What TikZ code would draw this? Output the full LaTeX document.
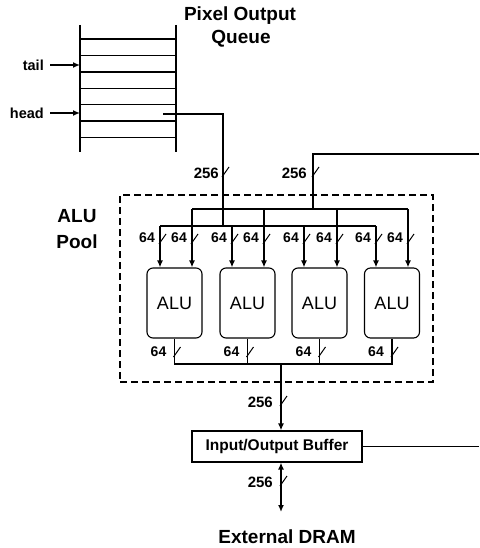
\documentclass[tikz,border=0pt]{standalone}
\usepackage{fontspec}
\setmainfont{Liberation Sans}
\usetikzlibrary{arrows.meta}
\begin{document}
\begin{tikzpicture}[x=1pt,y=-1pt,
  every node/.style={inner sep=0pt},
  ttl/.style={font=\fontsize{19}{19}\selectfont\bfseries},
  lab/.style={font=\fontsize{14}{14}\selectfont\bfseries, anchor=east},
  widelab/.style={font=\fontsize{15}{15}\selectfont\bfseries, anchor=east},
  sidelab/.style={font=\fontsize{14.5}{14.5}\selectfont\bfseries, anchor=east},
  wire/.style={line width=1.1pt},
  qline/.style={line width=1.5pt},
  thickwire/.style={line width=2pt},
  arrowend/.style={-{Latex[length=7pt,width=6pt]}},
  drop/.style={line width=1.8pt,-{Latex[length=7pt,width=6pt]}},
  ptr/.style={line width=1.9pt,-{Latex[length=7pt,width=6pt]}},
  alubox/.style={draw, line width=1.1pt, rounded corners=6pt, minimum width=55pt, minimum height=70pt, font=\fontsize{18}{18}\selectfont},
  poolbox/.style={draw, dash pattern=on 7pt off 4pt, line width=2.6pt, minimum width=313pt, minimum height=187pt},
  bufbox/.style={draw, line width=1.1pt, minimum width=170pt, minimum height=31pt, font=\fontsize{15.5}{15.5}\selectfont\bfseries},
  busmark/.pic={\draw[line width=1pt] (-1,4) -- (6,-6);}
]
\useasboundingbox (0,0) rectangle (479,548);

% title
\node[ttl] (t1) at (240,15.5) {Pixel Output};
\node[ttl] (t2) at (241,39) {Queue};

% queue
\coordinate (qtl) at (80,25);
\coordinate (qbr) at (176,152);
\draw[qline] (qtl) -- (qtl |- qbr);
\draw[qline] (qbr |- qtl) -- (qbr);
\foreach \y in {39,55.5,72,88.5,104.5,121,137.5}
  \draw[qline] (80,\y) -- (176,\y);

% tail / head
\node[sidelab] (tail) at (44,65) {tail};
\node[sidelab] (head) at (44,113) {head};
\draw[ptr] ([xshift=6pt]tail.east) -- (tail.east -| qtl);
\draw[ptr] ([xshift=6pt]head.east) -- (head.east -| qtl);

% ALU pool label
\node[ttl] (pl1) at (77,216) {ALU};
\node[ttl] (pl2) at (77,242) {Pool};

% pool box
\node[poolbox] (pool) at (276.5,288.5) {};

% bus A from queue
\coordinate (qh) at (163,114);
\coordinate (qa) at (223,114);
\coordinate (la) at (223,226);
\draw[wire] (qh) -- (qa) -- (la);
\node[widelab] (n256a) at (219,173) {256};
\pic at (223,173) {busmark};

% bus B from right
\coordinate (rin) at (479,154);
\coordinate (lb) at (313,209);
\draw[wire] (rin) -| (lb);
\node[widelab] (n256b) at (307,173) {256};
\pic at (313,173) {busmark};

% distribution lines
\draw[wire] (160,226) -- (376,226);
\draw[wire] (192,209) -- (408,209);

% ALUs
\node[alubox] (alu1) at (174.5,303) {ALU};
\node[alubox] (alu2) at (247.5,303) {ALU};
\node[alubox] (alu3) at (319.5,303) {ALU};
\node[alubox] (alu4) at (392,303) {ALU};

% drops
\foreach \x/\y/\a in {160/226/alu1,192/209/alu1,232/226/alu2,264/209/alu2,304/226/alu3,337/209/alu3,376/226/alu4,408/209/alu4}{
  \coordinate (d) at (\x,\y);
  \draw[drop] (d) -- (d |- \a.north);
  \node[lab] at (\x-5,238) {64};
  \pic at (\x,240) {busmark};
}

% outputs
\coordinate (ob) at (281,364);
\draw[wire] (alu1.south) -- (alu1.south |- ob) -- (alu4.south |- ob) -- (alu4.south);
\draw[wire] (alu2.south) -- (alu2.south |- ob);
\draw[wire] (alu3.south) -- (alu3.south |- ob);
\foreach \x in {174.5,247.5,319.5,392}{
  \node[lab] at (\x-8,352) {64};
  \pic at (\x,353) {busmark};
}

% buffer
\node[bufbox] (buf) at (277,446.5) {Input/Output Buffer};
\draw[thickwire, arrowend] (ob) -- (ob |- buf.north);
\node[widelab] (n256c) at (273,402) {256};
\pic at (281,402) {busmark};
\draw[wire] (buf.east) -- (buf.east -| rin);

% external DRAM
\node[ttl] (dram) at (287,537) {External DRAM};
\coordinate (de) at (281,512);
\draw[thickwire, {Latex[length=7pt,width=6pt]}-{Latex[length=7pt,width=6pt]}] (buf.south -| ob) -- (de);
\node[widelab] (n256d) at (273,482) {256};
\pic at (281,482) {busmark};
\end{tikzpicture}
\end{document}
